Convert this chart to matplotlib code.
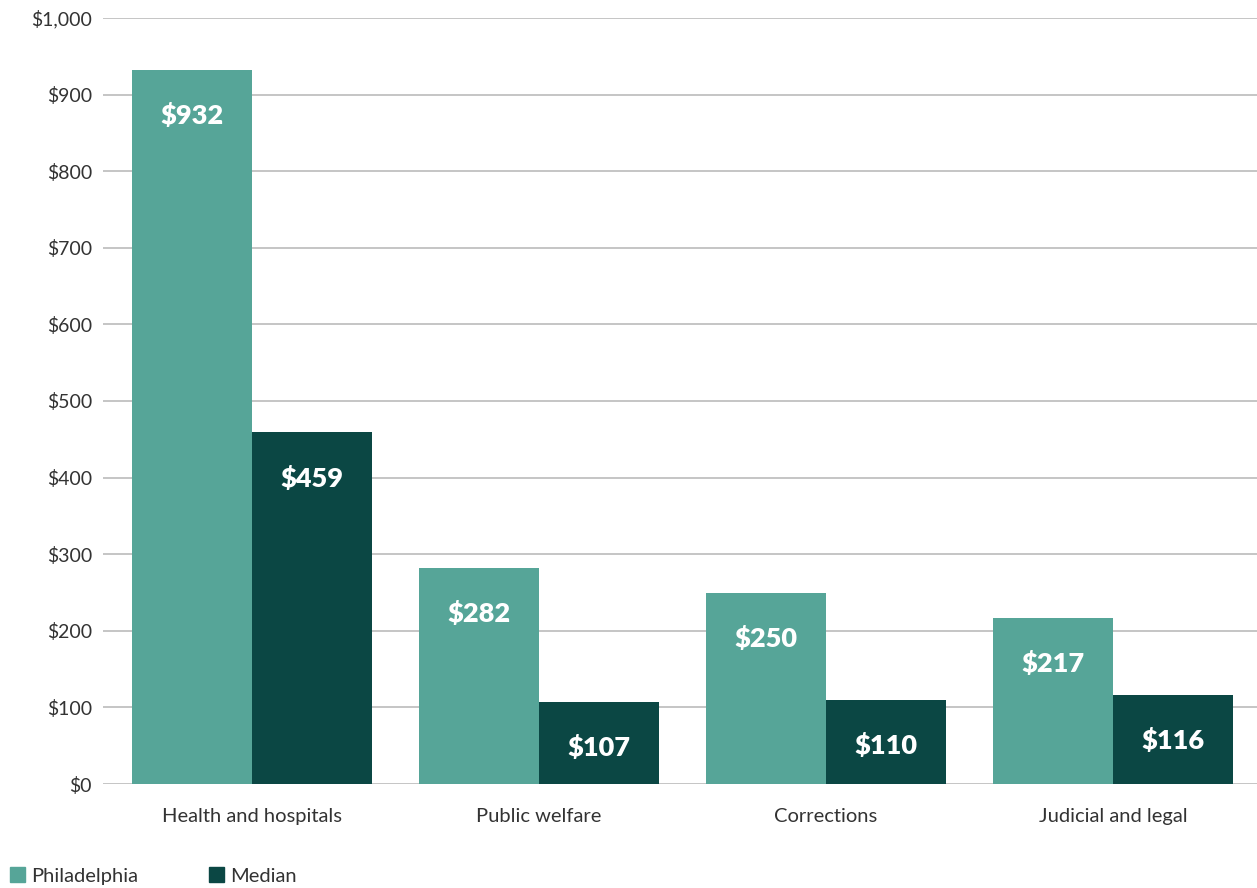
import matplotlib
matplotlib.use("Agg")
import matplotlib.pyplot as plt
import numpy as np
from matplotlib.patches import Patch

categories = ["Health and hospitals", "Public welfare", "Corrections", "Judicial and legal"]
philadelphia = [932, 282, 250, 217]
median = [459, 107, 110, 116]
yticks = [0, 100, 200, 300, 400, 500, 600, 700, 800, 900, 1000]
ytick_labels = ["$0", "$100", "$200", "$300", "$400", "$500", "$600", "$700", "$800", "$900", "$1,000"]
series_names = ["Philadelphia", "Median"]

c_light = "#56A598"
c_dark = "#0B4744"
txt = "#333333"

plt.rcParams['font.family'] = ['Lato', 'DejaVu Sans']

fig = plt.figure(figsize=(12.57, 8.88), dpi=100)
ax = fig.add_axes([103/1257, 1-784/888, 1-103/1257, (784-18)/888])

x = np.arange(len(categories))
w = 0.418
b1 = ax.bar(x - w/2, philadelphia, width=w, color=c_light, zorder=3)
b2 = ax.bar(x + w/2, median, width=w, color=c_dark, zorder=3)

for bars, vals in ((b1, philadelphia), (b2, median)):
    for rect, v in zip(bars, vals):
        ax.annotate(f"${v}", (rect.get_x() + rect.get_width()/2, v),
                    xytext=(0, -33), textcoords="offset points",
                    ha="center", va="center", color="white",
                    fontsize=19.5, fontweight="heavy", zorder=4)

ax.set_ylim(0, 1000)
ax.set_xlim(-0.519, 3.502)
ax.set_yticks(yticks)
ax.set_yticklabels(ytick_labels, fontsize=14, color=txt)
ax.set_xticks(x)
ax.set_xticklabels(categories, fontsize=14.5, color=txt)
ax.tick_params(axis="both", length=0)
ax.tick_params(axis="y", pad=8)
ax.tick_params(axis="x", pad=17)
ax.yaxis.grid(True, color="#bbbbbb", linewidth=1.2, zorder=0)
for s in ax.spines.values():
    s.set_visible(False)

handles = [Patch(color=c_light), Patch(color=c_dark)]
fig.legend(handles, series_names, loc="lower left", bbox_to_anchor=(-0.003, -0.012),
           ncol=2, frameon=False, fontsize=14.5, handlelength=0.72, handleheight=0.72,
           handletextpad=0.3, columnspacing=3.55, borderaxespad=0.3,
           labelcolor=txt)

fig.savefig("out.png", dpi=100)
